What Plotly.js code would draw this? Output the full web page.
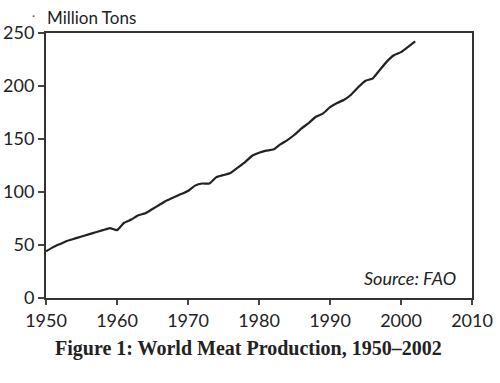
<!DOCTYPE html>
<html>
<head>
<meta charset="utf-8">
<script src="https://cdn.plot.ly/plotly-3.0.1.min.js"></script>
<style>html,body{margin:0;padding:0;background:#fff;}#chart{width:500px;height:383px;}</style>
</head>
<body>
<div id="chart"></div>
<script>
const years = [1950,1951,1952,1953,1954,1955,1956,1957,1958,1959,1960,1961,1962,1963,1964,1965,1966,1967,1968,1969,1970,1971,1972,1973,1974,1975,1976,1977,1978,1979,1980,1981,1982,1983,1984,1985,1986,1987,1988,1989,1990,1991,1992,1993,1994,1995,1996,1997,1998,1999,2000,2001,2002];
const meatProduction = [44,48,51,54,56,58,60,62,64,66,64,71,74,78,80,84,88,92,95,98,101,106,108,108,114,116,118,123,128,134,137,139,140,145,149,154,160,165,171,174,180,184,187,192,199,205,207,215,223,229,232,237,242];
const xTicks = [1950,1960,1970,1980,1990,2000,2010];
const yTicks = [0,50,100,150,200,250];

const trace = {
  x: years, y: meatProduction, type: 'scatter', mode: 'lines',
  line: {color: '#222', width: 2.2, shape: 'spline', smoothing: 0.4},
  hoverinfo: 'skip'
};
const sans = 'Lato, "Noto Sans", sans-serif';
const layout = {
  width: 500, height: 383,
  margin: {l: 46, r: 28, t: 33, b: 85},
  paper_bgcolor: '#fff', plot_bgcolor: '#fff',
  showlegend: false,
  xaxis: {
    range: [1950, 2010], tickvals: xTicks, ticktext: xTicks.map(String),
    showgrid: false, zeroline: false,
    showline: true, linecolor: '#333', linewidth: 2, mirror: true,
    ticks: 'outside', ticklen: 5, tickwidth: 1.2, tickcolor: '#444',
    tickfont: {family: sans, size: 18, color: '#222'}
  },
  yaxis: {
    range: [0, 250], tickvals: yTicks, ticktext: yTicks.map(String),
    showgrid: false, zeroline: false,
    showline: true, linecolor: '#333', linewidth: 2, mirror: true,
    ticks: 'outside', ticklen: 6, tickwidth: 1.2, tickcolor: '#444',
    ticklabelstandoff: 0,
    tickfont: {family: sans, size: 18, color: '#222'}
  },
  annotations: [
    {text: 'Million Tons', xref: 'paper', yref: 'paper', x: -0.002, y: 1.01, xanchor: 'left', yanchor: 'bottom',
     showarrow: false, font: {family: sans, size: 17, color: '#222'}},
    {text: '·', xref: 'paper', yref: 'paper', x: -0.03, y: 1.03, xanchor: 'center', yanchor: 'bottom',
     showarrow: false, font: {family: sans, size: 12, color: '#555'}},
    {text: '<i>Source: FAO</i>', xref: 'paper', yref: 'paper', x: 0.968, y: 0.025, xanchor: 'right', yanchor: 'bottom',
     showarrow: false, font: {family: sans, size: 18, color: '#222'}},
    {text: '<b>Figure 1: World Meat Production, 1950–2002</b>', xref: 'paper', yref: 'paper', x: 0.476, y: -0.19,
     xanchor: 'center', yanchor: 'middle', showarrow: false,
     font: {family: '"Liberation Serif", "DejaVu Serif", serif', size: 20, color: '#222'}}
  ]
};
Plotly.newPlot('chart', [trace], layout, {staticPlot: true, displayModeBar: false});
</script>
</body>
</html>
